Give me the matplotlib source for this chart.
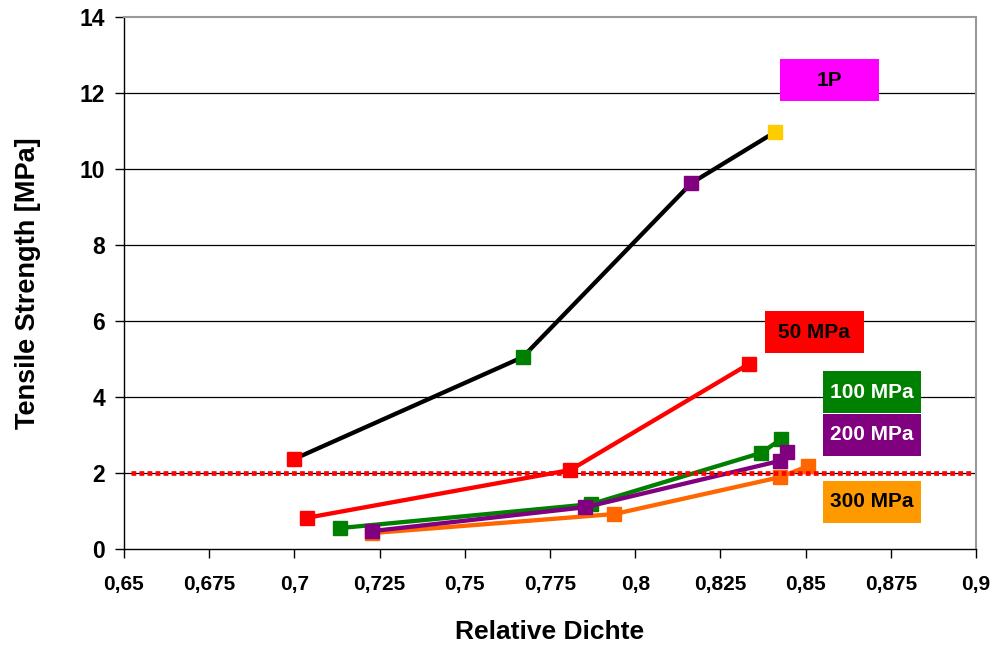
import matplotlib
matplotlib.use('Agg')
import matplotlib.pyplot as plt
from matplotlib.patches import Rectangle
from matplotlib.ticker import FuncFormatter

plt.rcParams['font.family'] = ['Liberation Sans', 'DejaVu Sans']
plt.rcParams['font.weight'] = 'bold'

# --- Daten ---
x_1p = [0.700, 0.767, 0.8165, 0.841]
y_1p = [2.37, 5.05, 9.63, 10.97]
c_1p = ['#FF0000', '#008000', '#800080', '#FFCC00']

x_50 = [0.7036, 0.781, 0.8334]
y_50 = [0.82, 2.08, 4.87]

x_100 = [0.7133, 0.787, 0.837, 0.8428]
y_100 = [0.55, 1.18, 2.53, 2.89]

x_200 = [0.7227, 0.7854, 0.8425, 0.8446]
y_200 = [0.47, 1.10, 2.32, 2.55]

x_300 = [0.7229, 0.7939, 0.8425, 0.8507]
y_300 = [0.42, 0.92, 1.89, 2.18]

grenzwert = 2.0

x_ticks = [0.65, 0.675, 0.7, 0.725, 0.75, 0.775, 0.8, 0.825, 0.85, 0.875, 0.9]
y_ticks = [0, 2, 4, 6, 8, 10, 12, 14]

# Beschriftungen: (Text, Box-Farbe, Textfarbe, x-Mitte, y-Mitte)
labels = [
    ('1P', '#FF00FF', 'black', 0.857, 12.34),
    ('50 MPa', '#FF0000', 'black', 0.8525, 5.71),
    ('100 MPa', '#008000', 'white', 0.8695, 4.13),
    ('200 MPa', '#800080', 'white', 0.8695, 3.00),
    ('300 MPa', '#FF9900', 'black', 0.8695, 1.24),
]

fig = plt.figure(figsize=(9.98, 6.46), dpi=100)
ax = fig.add_axes([124 / 998, 97 / 646, 852 / 998, 532 / 646])

# Gitterlinien
for yv in y_ticks[1:-1]:
    ax.axhline(yv, color='black', linewidth=0.9, zorder=1)

lw = 3.1
ms = 10.5

# 1P: schwarze Linie mit farbigen Markern
ax.plot(x_1p, y_1p, color='black', linewidth=lw, zorder=3)
for xv, yv, c in zip(x_1p, y_1p, c_1p):
    s = ms if c != '#FFCC00' else 9.5
    ax.plot([xv], [yv], marker='s', markersize=s, color=c, linestyle='none', zorder=4)

ax.plot(x_50, y_50, color='#FF0000', linewidth=lw, marker='s', markersize=ms, zorder=3)
ax.plot(x_300, y_300, color='#FF6600', linewidth=lw, marker='s', markersize=ms, zorder=3)
ax.plot(x_200, y_200, color='#800080', linewidth=lw, marker='s', markersize=ms, zorder=4)
ax.plot(x_100, y_100, color='#008000', linewidth=lw, marker='s', markersize=ms, zorder=3)

# Grenzwert 2 MPa
ax.plot([0.652, 0.899], [grenzwert, grenzwert], color='#FF0000', linewidth=3.4,
        linestyle=(0, (1.0, 0.7)), zorder=5)

# Beschriftungsboxen
bw = 0.029
bh = 1.12
for txt, bc, tc, xc, yc in labels:
    ax.add_patch(Rectangle((xc - bw / 2, yc - bh / 2), bw, bh, facecolor=bc,
                           edgecolor='none', zorder=6))
    ax.text(xc, yc, txt, color=tc, fontsize=15, fontweight='bold',
            ha='center', va='center', zorder=7)

ax.set_xlim(0.65, 0.9)
ax.set_ylim(0, 14)
ax.set_xticks(x_ticks)
ax.set_yticks(y_ticks)
ax.xaxis.set_major_formatter(FuncFormatter(lambda v, p: ('%g' % round(v, 3)).replace('.', ',')))
ax.tick_params(axis='both', direction='out', length=6.5, width=1, color='black')
ax.tick_params(axis='x', pad=12, labelsize=15)
ax.tick_params(axis='y', pad=7, labelsize=16.5)

for side in ['top', 'right']:
    ax.spines[side].set_color('#999999')
    ax.spines[side].set_linewidth(1.5)
for side in ['left', 'bottom']:
    ax.spines[side].set_color('black')
    ax.spines[side].set_linewidth(1)

ax.set_xlabel('Relative Dichte', fontsize=19, fontweight='bold', labelpad=19)
ax.set_ylabel('Tensile Strength [MPa]', fontsize=19.5, fontweight='bold', labelpad=28)

for lab in ax.get_xticklabels() + ax.get_yticklabels():
    lab.set_fontweight('bold')

fig.savefig('out.png', dpi=100, facecolor='white')
